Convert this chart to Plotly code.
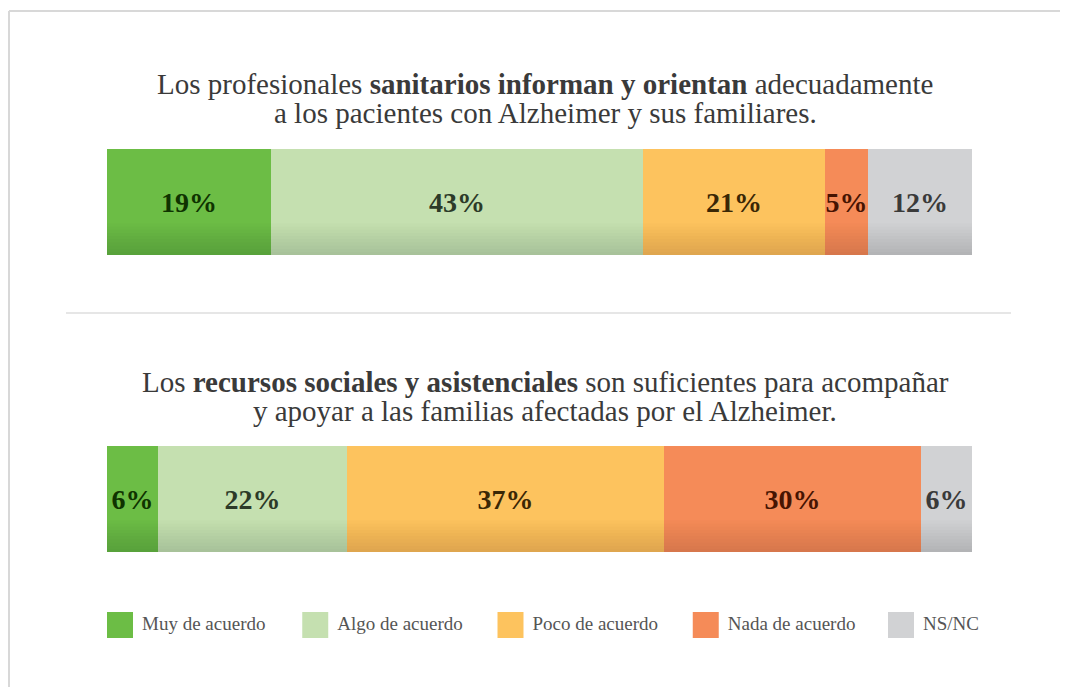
import plotly.graph_objects as go

categories = ["Muy de acuerdo", "Algo de acuerdo", "Poco de acuerdo", "Nada de acuerdo", "NS/NC"]
q1_values = [19, 43, 21, 5, 12]
q2_values = [6, 22, 37, 30, 6]
q1_title = ["Los profesionales <b>sanitarios informan y orientan</b> adecuadamente",
            "a los pacientes con Alzheimer y sus familiares."]
q2_title = ["Los <b>recursos sociales y asistenciales</b> son suficientes para acompañar",
            "y apoyar a las familias afectadas por el Alzheimer."]

colors = ["#6cbd45", "#c5e0b0", "#fdc35e", "#f58b58", "#d1d2d4"]
text_colors = ["#0f3300", "#2c3a28", "#3a2705", "#461402", "#3a3a3a"]

OFF = 8  # page body margin
W, H = 1068 - OFF, 687 - OFF
SERIF = "Liberation Serif"

def px(x):
    return (x - OFF) / W

def py(y):
    return 1 - (y - OFF) / H

fig = go.Figure()

for i, cat in enumerate(categories):
    for row, vals in ((1, q1_values), (2, q2_values)):
        fig.add_trace(go.Bar(
            x=[vals[i]], y=[0], orientation="h",
            name=cat, showlegend=False,
            marker=dict(color=colors[i], line=dict(width=0)),
            text=[f"{vals[i]}%"], textposition="inside",
            insidetextanchor="middle", textangle=0,
            constraintext="none", cliponaxis=False,
            textfont=dict(family=SERIF, size=28, color=text_colors[i], weight="bold"),
            width=1,
            xaxis="x" if row == 1 else "x2",
            yaxis="y" if row == 1 else "y2",
            hoverinfo="skip",
        ))

# legend as a scatter of square markers
fig.add_trace(go.Scatter(
    x=list(range(len(categories))), y=[0] * len(categories),
    mode="markers+text",
    marker=dict(symbol="square", size=26, color=colors, line=dict(width=0)),
    text=["\u00a0" + c for c in categories], textposition="middle right",
    textfont=dict(family=SERIF, size=19, color="#555555"),
    xaxis="x3", yaxis="y3", showlegend=False, hoverinfo="skip", cliponaxis=False,
))

ax_common = dict(showgrid=False, zeroline=False, showticklabels=False, showline=False, fixedrange=True)

fig.update_layout(
    width=W, height=H,
    margin=dict(l=0, r=0, t=0, b=0),
    paper_bgcolor="white", plot_bgcolor="rgba(0,0,0,0)",
    barmode="stack", bargap=0,
    font=dict(family=SERIF),
    xaxis=dict(domain=[px(107), px(972)], range=[0, sum(q1_values)], anchor="y", **ax_common),
    yaxis=dict(domain=[py(255), py(149)], range=[-0.5, 0.5], anchor="x", **ax_common),
    xaxis2=dict(domain=[px(107), px(972)], range=[0, sum(q2_values)], anchor="y2", **ax_common),
    yaxis2=dict(domain=[py(552), py(446)], range=[-0.5, 0.5], anchor="x2", **ax_common),
    xaxis3=dict(domain=[px(120), px(901)], range=[0, len(categories) - 1], anchor="y3", **ax_common),
    yaxis3=dict(domain=[py(645), py(605)], range=[-1, 1], anchor="x3", **ax_common),
    showlegend=False,
)

# titles (one annotation per line)
for lines, ys in ((q1_title, (84, 113)), (q2_title, (382, 411))):
    for line, yc in zip(lines, ys):
        fig.add_annotation(
            text=line, x=px(545), y=py(yc), xref="paper", yref="paper",
            xanchor="center", yanchor="middle", showarrow=False, align="center",
            font=dict(family=SERIF, size=29, color="#3a3a3a"),
        )

shapes = []
# subtle bottom shading on bars
for xr, yr in (("x domain", "y domain"), ("x2 domain", "y2 domain")):
    n = 10
    for k in range(1, n + 1):
        shapes.append(dict(type="rect", xref=xr, yref=yr, x0=0, x1=1, y0=0,
                           y1=0.3 * k / n, fillcolor="rgba(0,0,0,0.011)",
                           line=dict(width=0), layer="above"))
# divider
shapes.append(dict(type="line", xref="paper", yref="paper", x0=px(66), x1=px(1011),
                   y0=py(313), y1=py(313), line=dict(color="#dedede", width=1.5)))
# frame
shapes.append(dict(type="line", xref="paper", yref="paper", x0=px(9), x1=px(9),
                   y0=py(11), y1=0, line=dict(color="#d8d8d8", width=2)))
shapes.append(dict(type="line", xref="paper", yref="paper", x0=px(9), x1=1,
                   y0=py(11), y1=py(11), line=dict(color="#d8d8d8", width=2)))
fig.update_layout(shapes=shapes)

fig.write_html("out.html")
